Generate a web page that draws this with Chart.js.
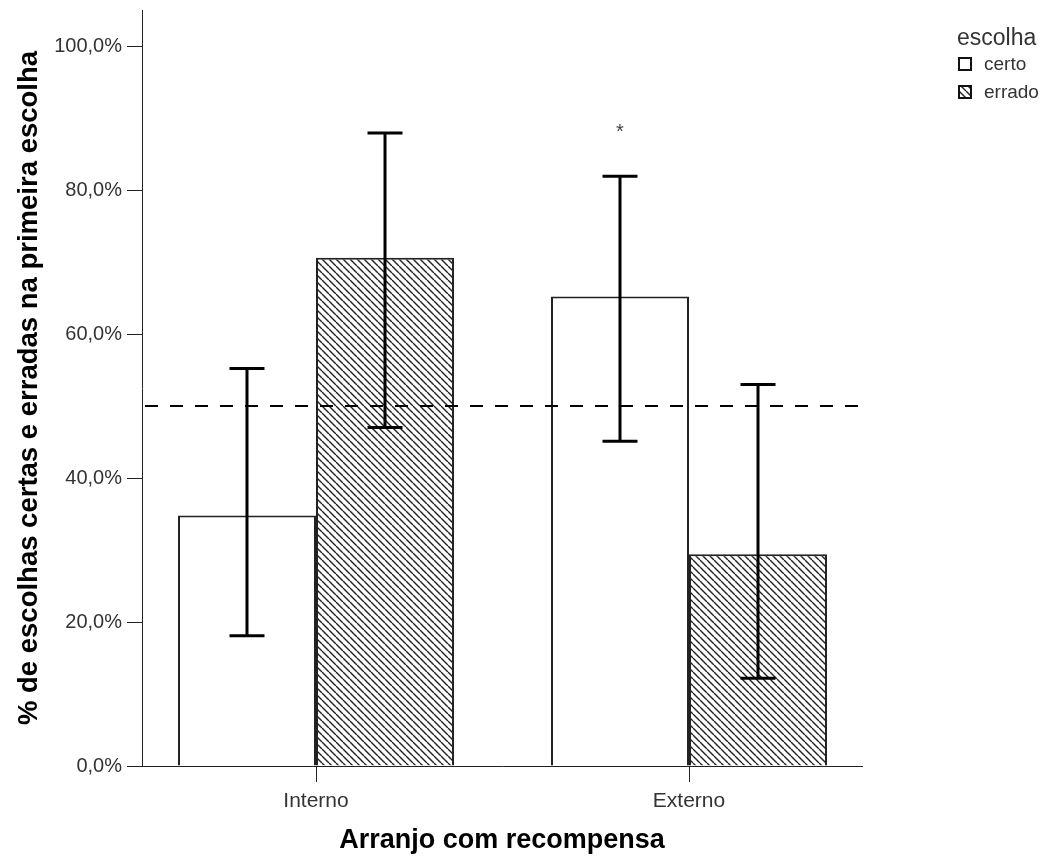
<!DOCTYPE html>
<html>
<head>
<meta charset="utf-8">
<script src="https://cdn.jsdelivr.net/npm/chart.js@4"></script>
<style>
  html, body { margin: 0; padding: 0; background: #fff; }
  #wrap { width: 1044px; height: 857px; position: relative; }
</style>
</head>
<body>
<div id="wrap"><canvas id="chart"></canvas></div>
<script>
// data
const CATEGORIES = ['Interno', 'Externo'];
const SERIES = ['certo', 'errado'];
const CERTO = [34.8, 65.2];
const ERRADO = [70.6, 29.4];
const CERTO_LOW = [18.1, 45.1];
const CERTO_HIGH = [55.2, 81.9];
const ERRADO_LOW = [47.0, 12.2];
const ERRADO_HIGH = [87.9, 53.0];
const Y_TICKS = [0, 20, 40, 60, 80, 100];
const CHANCE_LEVEL = 50;
const MARK_TEXT = '*';
const MARK_CATEGORY = 1;   // Externo
const MARK_SERIES = 0;     // certo
const MARK_VALUE = 88.5;

const FONT = "'Liberation Sans', Arial, sans-serif";

function hatchPattern(ctx) {
    const s = 7;
    const c = document.createElement('canvas');
    c.width = s; c.height = s;
    const g = c.getContext('2d');
    g.fillStyle = '#fff';
    g.fillRect(0, 0, s, s);
    g.strokeStyle = '#222';
    g.lineWidth = 1.4;
    g.beginPath();
    for (const k of [-s, 0, s]) {
        g.moveTo(k, 0);
        g.lineTo(k + s, s);
    }
    g.stroke();
    return ctx.createPattern(c, 'repeat');
}

const canvas = document.getElementById('chart');
const ctx = canvas.getContext('2d');
const hatch = hatchPattern(ctx);

const toPoints = arr => arr.map((v, i) => ({ x: i + 1, y: v }));

// dashed chance line, error bars and the asterisk
const overlays = {
    id: 'overlays',
    afterDatasetsDraw(chart) {
        const { ctx, chartArea, scales: { y } } = chart;
        ctx.save();
        // chance line
        const yl = y.getPixelForValue(CHANCE_LEVEL);
        ctx.strokeStyle = '#000';
        ctx.lineWidth = 2;
        ctx.setLineDash([13, 12]);
        ctx.beginPath();
        ctx.moveTo(chartArea.left + 3, yl);
        ctx.lineTo(chartArea.right, yl);
        ctx.stroke();
        ctx.setLineDash([]);

        // error bars
        ctx.lineWidth = 3;
        chart.data.datasets.forEach((ds, di) => {
            const meta = chart.getDatasetMeta(di);
            meta.data.forEach((bar, i) => {
                const lo = y.getPixelForValue(ds.errLow[i]);
                const hi = y.getPixelForValue(ds.errHigh[i]);
                const half = 17.5;
                ctx.beginPath();
                ctx.moveTo(bar.x, lo);
                ctx.lineTo(bar.x, hi);
                ctx.moveTo(bar.x - half, lo);
                ctx.lineTo(bar.x + half, lo);
                ctx.moveTo(bar.x - half, hi);
                ctx.lineTo(bar.x + half, hi);
                ctx.stroke();
            });
        });

        // significance mark
        const markBar = chart.getDatasetMeta(MARK_SERIES).data[MARK_CATEGORY];
        ctx.fillStyle = '#444';
        ctx.font = '20px ' + FONT;
        ctx.textAlign = 'center';
        ctx.textBaseline = 'alphabetic';
        ctx.fillText(MARK_TEXT, markBar.x, y.getPixelForValue(MARK_VALUE) + 9);
        ctx.restore();
    },
    afterDraw(chart) {
        // legend at the top right
        const { ctx } = chart;
        ctx.save();
        ctx.fillStyle = '#333';
        ctx.textAlign = 'left';
        ctx.textBaseline = 'alphabetic';
        ctx.font = '23px ' + FONT;
        ctx.fillText('escolha', 957, 45);
        ctx.font = '19px ' + FONT;
        chart.data.datasets.forEach((ds, i) => {
            const top = 57 + i * 28;
            ctx.fillStyle = ds.backgroundColor;
            ctx.fillRect(958, top, 14, 14);
            ctx.strokeStyle = '#111';
            ctx.lineWidth = 2;
            ctx.strokeRect(959, top + 1, 12, 12);
            ctx.fillStyle = '#333';
            ctx.fillText(ds.label, 984, top + 13);
        });
        ctx.restore();
    }
};

new Chart(ctx, {
    type: 'bar',
    data: {
        datasets: [
            {
                label: SERIES[0],
                data: toPoints(CERTO),
                errLow: CERTO_LOW,
                errHigh: CERTO_HIGH,
                backgroundColor: '#fff',
                borderColor: '#222',
                borderWidth: 2
            },
            {
                label: SERIES[1],
                data: toPoints(ERRADO),
                errLow: ERRADO_LOW,
                errHigh: ERRADO_HIGH,
                backgroundColor: hatch,
                borderColor: '#222',
                borderWidth: 2
            }
        ]
    },
    options: {
        responsive: true,
        maintainAspectRatio: false,
        animation: false,
        categoryPercentage: 0.74,
        barPercentage: 1,
        layout: { padding: { left: 0, right: 182, top: 10, bottom: 0 } },
        plugins: {
            legend: { display: false },
            tooltip: { enabled: false }
        },
        scales: {
            x: {
                type: 'linear',
                min: 0.5335,
                max: 2.4638,
                offset: false,
                afterBuildTicks: s => { s.ticks = CATEGORIES.map((c, i) => ({ value: i + 1 })); },
                afterFit: s => { s.height = 91; s.paddingLeft = 0; s.paddingRight = 0; },
                grid: { display: true, offset: false, drawOnChartArea: false, drawTicks: true, tickLength: 16, color: '#222', lineWidth: 1 },
                border: { display: true, color: '#222', width: 1 },
                ticks: {
                    padding: 7,
                    color: '#333',
                    font: { family: FONT, size: 21 },
                    callback: v => CATEGORIES[v - 1]
                },
                title: {
                    display: true,
                    text: 'Arranjo com recompensa',
                    color: '#000',
                    font: { family: FONT, size: 27, weight: 'bold' },
                    padding: { top: 0, bottom: 0 }
                }
            },
            y: {
                min: 0,
                max: 105,
                afterBuildTicks: s => { s.ticks = Y_TICKS.map(v => ({ value: v })); },
                afterFit: s => { s.width = 142; s.paddingTop = 0; s.paddingBottom = 0; },
                grid: { display: true, drawOnChartArea: false, drawTicks: true, tickLength: 15, color: '#222', lineWidth: 1 },
                border: { display: true, color: '#222', width: 1 },
                ticks: {
                    padding: 5,
                    color: '#333',
                    font: { family: FONT, size: 20 },
                    callback: v => v.toFixed(1).replace('.', ',') + '%'
                },
                title: {
                    display: true,
                    text: '% de escolhas certas e erradas na primeira escolha',
                    color: '#000',
                    font: { family: FONT, size: 27.5, weight: 'bold' },
                    padding: { top: 13, bottom: 0 }
                }
            }
        }
    },
    plugins: [overlays]
});
</script>
</body>
</html>
